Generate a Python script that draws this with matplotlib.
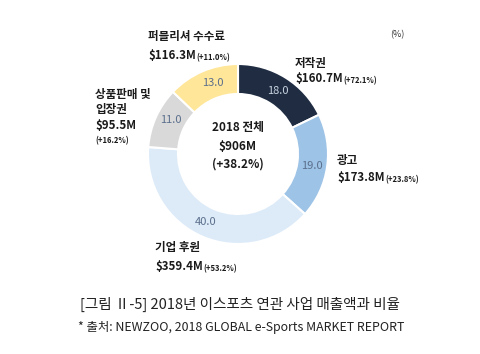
import matplotlib
matplotlib.use("Agg")
import matplotlib.pyplot as plt
import numpy as np

plt.rcParams['font.family'] = ['Noto Sans CJK KR', 'DejaVu Sans']

categories = ["저작권", "광고", "기업 후원", "상품판매 및\n입장권", "퍼블리셔 수수료"]
shares = [18.0, 19.0, 40.0, 11.0, 13.0]
amounts = ["$160.7M", "$173.8M", "$359.4M", "$95.5M", "$116.3M"]
growth = ["(+72.1%)", "(+23.8%)", "(+53.2%)", "(+16.2%)", "(+11.0%)"]
colors = ["#1F2C42", "#9DC3E6", "#DDEBF8", "#D9D9D9", "#FFE699"]
total_lines = ["2018 전체", "$906M", "(+38.2%)"]
caption = "[그림 Ⅱ-5] 2018년 이스포츠 연관 사업 매출액과 비율"
source = "* 출처: NEWZOO, 2018 GLOBAL e-Sports MARKET REPORT"

W, H = 481, 354
fig = plt.figure(figsize=(W / 100, H / 100), dpi=100)
ax = fig.add_axes([0, 0, 1, 1])
ax.set_xlim(0, W)
ax.set_ylim(0, H)
ax.set_aspect('equal')
ax.axis('off')

def Y(py):
    return H - py

cx, cy, R = 238, 154, 90
width = 30
wedges, texts = ax.pie(shares, colors=colors, startangle=90, counterclock=False,
                       center=(cx, Y(cy)), radius=R,
                       wedgeprops=dict(width=width, edgecolor='white', linewidth=1.5))
ax.set_xlim(0, W)
ax.set_ylim(0, H)

ang = 90.0
for i, v in enumerate(shares):
    mid = ang - v / 2 * 3.6
    ang -= v * 3.6
    r = R - width / 2
    x = cx + r * np.cos(np.radians(mid))
    y = Y(cy) + r * np.sin(np.radians(mid))
    col = "#C9D3E0" if i == 0 else "#5B6F8C"
    ax.text(x, y, f"{v:.1f}", ha='center', va='center', fontsize=8, color=col)

for line, py in zip(total_lines, [128, 146, 164]):
    ax.text(cx, Y(py), line, ha='center', va='center', fontsize=8.5,
            fontweight='bold', color='#1a1a1a')

lab_kw = dict(fontsize=8.3, fontweight='bold', color='#1a1a1a')

def amount_label(x, py, amt, gr, small_newline=False):
    t = ax.text(x, Y(py), amt, ha='left', va='baseline', **lab_kw)
    if small_newline:
        ax.text(x, Y(py + 14), gr, ha='left', va='baseline', fontsize=5.5,
                fontweight='bold', color='#1a1a1a')
    else:
        ax.annotate(gr, xy=(1, 0), xycoords=t, xytext=(0.5, 0), textcoords='offset points',
                    ha='left', va='bottom', fontsize=5.5, fontweight='bold', color='#1a1a1a')

ax.text(148, Y(40), categories[4], ha='left', va='baseline', **lab_kw)
amount_label(148, 59, amounts[4], growth[4])
ax.text(295, Y(67), categories[0], ha='left', va='baseline', **lab_kw)
amount_label(295, 82, amounts[0], growth[0])
ax.text(95, Y(98), "상품판매 및", ha='left', va='baseline', **lab_kw)
ax.text(95, Y(113), "입장권", ha='left', va='baseline', **lab_kw)
amount_label(95, 129, amounts[3], growth[3], small_newline=True)
ax.text(337, Y(164), categories[1], ha='left', va='baseline', **lab_kw)
amount_label(337, 181, amounts[1], growth[1])
ax.text(155, Y(251), categories[2], ha='left', va='baseline', **lab_kw)
amount_label(155, 270, amounts[2], growth[2])

ax.text(397, Y(35), "(%)", ha='center', va='center', fontsize=6.5, color='#333333')

ax.text(240, Y(304), caption, ha='center', va='center', fontsize=10.5, color='#222222')
ax.text(78, Y(327), source, ha='left', va='center', fontsize=8.9, color='#222222')

fig.savefig("out.png", dpi=100, facecolor='white')
